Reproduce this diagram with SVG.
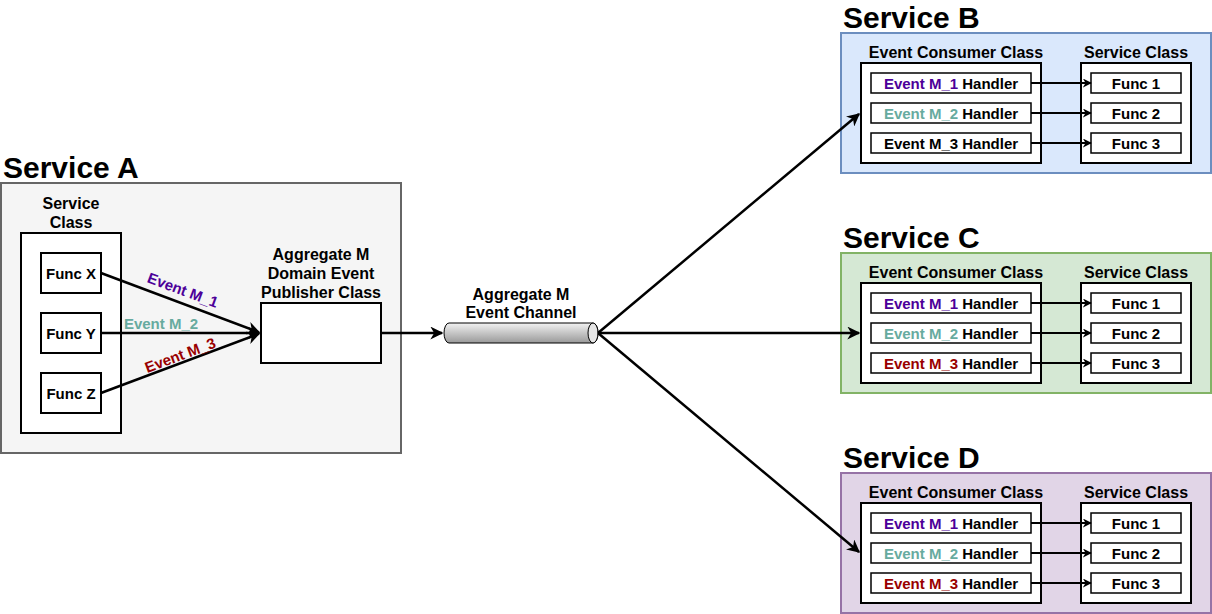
<svg xmlns="http://www.w3.org/2000/svg" width="1212" height="614" viewBox="0 0 1212 614">
<style>
text{font-family:"Liberation Sans",Arial,sans-serif;font-weight:bold;}
.t{font-size:16px;fill:#000;}
.s{font-size:15px;fill:#000;}
.title{font-size:30px;fill:#000;}
.box{fill:#fff;stroke:#000;stroke-width:2;}
.hb{fill:#fff;stroke:#000;stroke-width:1.5;}
.c{fill:none;stroke:#000;stroke-width:2.5;}
.ci{fill:none;stroke:#000;stroke-width:2;}
.p{fill:#4C0099;}.g{fill:#67AB9F;}.r{fill:#990000;}
</style>
<defs>
<marker id="ah" viewBox="0 0 10 10" refX="9" refY="5" markerWidth="9" markerHeight="9" markerUnits="userSpaceOnUse" orient="auto">
<path d="M0,0 L10,5 L0,10 L3,5 Z" fill="#000"/>
</marker>
<marker id="ah2" viewBox="0 0 10 10" refX="9" refY="5" markerWidth="13" markerHeight="13" markerUnits="userSpaceOnUse" orient="auto">
<path d="M0,0 L10,5 L0,10 L3,5 Z" fill="#000"/>
</marker>
<linearGradient id="cyl" x1="0" y1="0" x2="0" y2="1">
<stop offset="0" stop-color="#f2f2f2"/>
<stop offset="1" stop-color="#999"/>
</linearGradient>
<symbol id="svc" overflow="visible">
<rect x="20" y="30" width="180" height="100" class="box"/>
<text x="115" y="25" text-anchor="middle" class="t">Event Consumer Class</text>
<rect x="240" y="30" width="110" height="100" class="box"/>
<text x="295" y="25" text-anchor="middle" class="t">Service Class</text>
<rect x="30" y="40" width="160" height="20" class="hb"/>
<rect x="30" y="70" width="160" height="20" class="hb"/>
<rect x="30" y="100" width="160" height="20" class="hb"/>
<rect x="250" y="40" width="90" height="20" class="hb"/>
<rect x="250" y="70" width="90" height="20" class="hb"/>
<rect x="250" y="100" width="90" height="20" class="hb"/>
<text x="295" y="56" text-anchor="middle" class="s">Func 1</text>
<text x="295" y="86" text-anchor="middle" class="s">Func 2</text>
<text x="295" y="116" text-anchor="middle" class="s">Func 3</text>
<line x1="190" y1="50" x2="250" y2="50" class="ci" marker-end="url(#ah)"/>
<line x1="190" y1="80" x2="250" y2="80" class="ci" marker-end="url(#ah)"/>
<line x1="190" y1="110" x2="250" y2="110" class="ci" marker-end="url(#ah)"/>
</symbol>
</defs>
<rect width="1212" height="614" fill="#fff"/>

<g id="serviceA">
<text x="3" y="178" class="title">Service A</text>
<rect x="1" y="183" width="400" height="270" fill="#f5f5f5" stroke="#666" stroke-width="2"/>
<rect x="21" y="233" width="100" height="200" class="box"/>
<text x="71" y="209" text-anchor="middle" class="t">Service</text>
<text x="71" y="228" text-anchor="middle" class="t">Class</text>
</g>
<g id="funcX"><rect x="41" y="253" width="60" height="40" class="box"/><text x="71" y="279" text-anchor="middle" class="s">Func X</text></g>
<g id="funcY"><rect x="41" y="313" width="60" height="40" class="box"/><text x="71" y="339" text-anchor="middle" class="s">Func Y</text></g>
<g id="funcZ"><rect x="41" y="373" width="60" height="40" class="box"/><text x="71" y="399" text-anchor="middle" class="s">Func Z</text></g>
<g id="publisher">
<rect x="261" y="303" width="120" height="60" class="box"/>
<text x="321" y="260" text-anchor="middle" class="t">Aggregate M</text>
<text x="321" y="279" text-anchor="middle" class="t">Domain Event</text>
<text x="321" y="298" text-anchor="middle" class="t">Publisher Class</text>
</g>
<g id="channel">
<text x="521" y="300" text-anchor="middle" class="t">Aggregate M</text>
<text x="521" y="318" text-anchor="middle" class="t">Event Channel</text>
<path d="M449,323 L593,323 A5,10 0 0 1 593,343 L449,343 A5,10 0 0 1 449,323 Z" fill="url(#cyl)" stroke="#000" stroke-width="1"/>
<ellipse cx="593" cy="333" rx="5" ry="10" fill="#e6e6e6" stroke="#000" stroke-width="1"/>
</g>

<g id="serviceB">
<text x="843" y="28" class="title">Service B</text>
<rect x="841" y="33" width="370" height="140" fill="#dae8fc" stroke="#6c8ebf" stroke-width="2"/>
<use href="#svc" x="841" y="33"/>
<text x="951" y="89" text-anchor="middle" class="s"><tspan class="p">Event M_1</tspan> Handler</text>
<text x="951" y="119" text-anchor="middle" class="s"><tspan class="g">Event M_2</tspan> Handler</text>
<text x="951" y="149" text-anchor="middle" class="s">Event M_3 Handler</text>
</g>
<g id="serviceC">
<text x="843" y="248" class="title">Service C</text>
<rect x="841" y="253" width="370" height="140" fill="#d5e8d4" stroke="#82b366" stroke-width="2"/>
<use href="#svc" x="841" y="253"/>
<text x="951" y="309" text-anchor="middle" class="s"><tspan class="p">Event M_1</tspan> Handler</text>
<text x="951" y="339" text-anchor="middle" class="s"><tspan class="g">Event M_2</tspan> Handler</text>
<text x="951" y="369" text-anchor="middle" class="s"><tspan class="r">Event M_3</tspan> Handler</text>
</g>
<g id="serviceD">
<text x="843" y="468" class="title">Service D</text>
<rect x="841" y="473" width="370" height="140" fill="#e1d5e7" stroke="#9673a6" stroke-width="2"/>
<use href="#svc" x="841" y="473"/>
<text x="951" y="529" text-anchor="middle" class="s"><tspan class="p">Event M_1</tspan> Handler</text>
<text x="951" y="559" text-anchor="middle" class="s"><tspan class="g">Event M_2</tspan> Handler</text>
<text x="951" y="589" text-anchor="middle" class="s"><tspan class="r">Event M_3</tspan> Handler</text>
</g>

<g id="connectors">
<line x1="101" y1="273" x2="259" y2="332.3" class="c" marker-end="url(#ah2)"/>
<line x1="101" y1="333" x2="259" y2="333" class="c" marker-end="url(#ah2)"/>
<line x1="101" y1="393" x2="259" y2="333.7" class="c" marker-end="url(#ah2)"/>
<text transform="translate(181,295) rotate(20.6)" text-anchor="middle" class="s p">Event M_1</text>
<text x="161" y="329" text-anchor="middle" class="s g">Event M_2</text>
<text transform="translate(182,360) rotate(-20.6)" text-anchor="middle" class="s r">Event M_3</text>
<line x1="381" y1="333" x2="442" y2="333" class="c" marker-end="url(#ah2)"/>
<line x1="598" y1="333" x2="859" y2="114" class="c" marker-end="url(#ah2)"/>
<line x1="598" y1="333" x2="859" y2="333" class="c" marker-end="url(#ah2)"/>
<line x1="598" y1="333" x2="859" y2="552" class="c" marker-end="url(#ah2)"/>
</g>
</svg>
